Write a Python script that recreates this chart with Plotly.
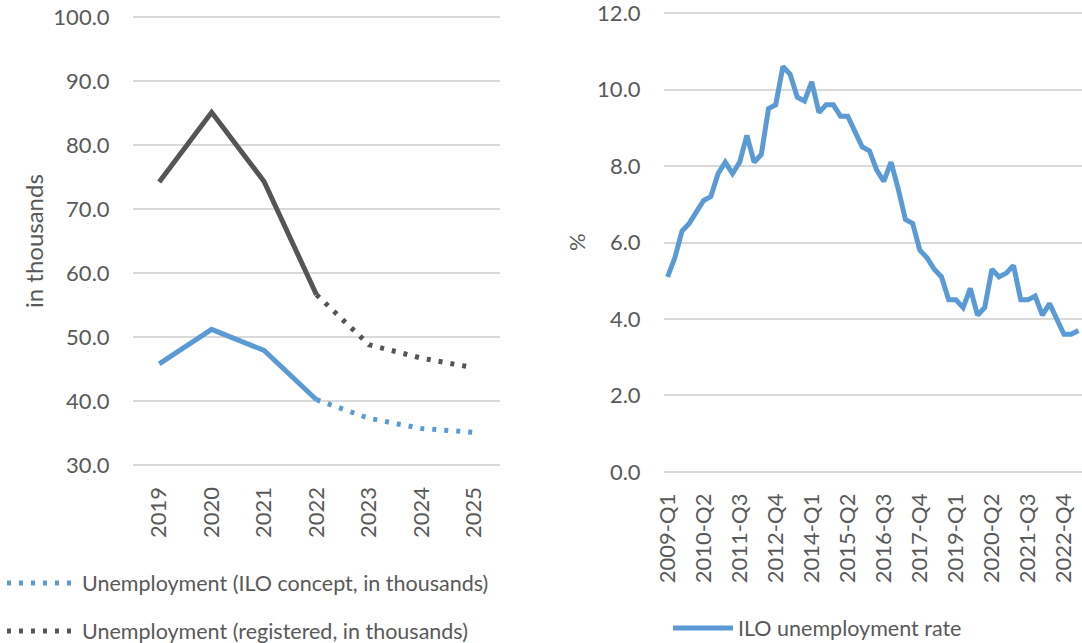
import plotly.graph_objects as go

W, H = 1082, 643

# ---- data: left chart ----
years = ["2019", "2020", "2021", "2022", "2023", "2024", "2025"]
ilo_thousands = [45.8, 51.2, 47.9, 40.2, 37.3, 35.7, 35.1]
registered_thousands = [74.2, 85.1, 74.3, 56.6, 48.8, 46.7, 45.2]
n_actual = 4  # 2019-2022 observed, 2022-2025 forecast (dotted)

# ---- data: right chart ----
quarters = [f"{y}-Q{q}" for y in range(2009, 2024) for q in range(1, 5)][:58]
ilo_rate = [5.1, 5.6, 6.3, 6.5, 6.8, 7.1, 7.2, 7.8, 8.1, 7.8,
            8.1, 8.8, 8.1, 8.3, 9.5, 9.6, 10.6, 10.4, 9.8, 9.7,
            10.2, 9.4, 9.6, 9.6, 9.3, 9.3, 8.9, 8.5, 8.4, 7.9,
            7.6, 8.1, 7.4, 6.6, 6.5, 5.8, 5.6, 5.3, 5.1, 4.5,
            4.5, 4.3, 4.8, 4.1, 4.3, 5.3, 5.1, 5.2, 5.4, 4.5,
            4.5, 4.6, 4.1, 4.4, 4.0, 3.6, 3.6, 3.7]
quarter_ticks = quarters[::5]
left_ticks = [30, 40, 50, 60, 70, 80, 90, 100]
right_ticks = [0, 2, 4, 6, 8, 10, 12]

TXT = "#595959"
GRID = "#d9d9d9"
BLUE = "#5b9bd5"
GRAY = "#555555"
FONT = "Lato"
LW = 5

def px_x(p):
    return p / W

def px_y(p):
    return 1 - p / H

fig = go.Figure()

# left chart traces
fig.add_trace(go.Scatter(x=years[:n_actual], y=ilo_thousands[:n_actual], mode="lines",
                         line=dict(color=BLUE, width=LW), showlegend=False,
                         xaxis="x", yaxis="y"))
fig.add_trace(go.Scatter(x=years[n_actual - 1:], y=ilo_thousands[n_actual - 1:], mode="lines",
                         line=dict(color=BLUE, width=LW, dash="4px,8px"),
                         name="Unemployment (ILO concept, in thousands)", legend="legend",
                         xaxis="x", yaxis="y"))
fig.add_trace(go.Scatter(x=years[:n_actual], y=registered_thousands[:n_actual], mode="lines",
                         line=dict(color=GRAY, width=LW), showlegend=False,
                         xaxis="x", yaxis="y"))
fig.add_trace(go.Scatter(x=years[n_actual - 1:], y=registered_thousands[n_actual - 1:], mode="lines",
                         line=dict(color=GRAY, width=LW, dash="4px,8px"),
                         name="Unemployment (registered, in thousands)", legend="legend2",
                         xaxis="x", yaxis="y"))

# right chart trace
fig.add_trace(go.Scatter(x=quarters, y=ilo_rate, mode="lines",
                         line=dict(color=BLUE, width=LW),
                         name="ILO unemployment rate", legend="legend3",
                         xaxis="x2", yaxis="y2"))

tickfont = dict(family=FONT, size=22, color=TXT)
legfont = dict(family=FONT, size=21.5, color=TXT)

# left: 30 at y=465px, 100 at y=17px  (6.4 px / unit), padded by 0.5 unit
# right: 0 at y=472px, 12 at y=13px (38.25 px / unit), padded by 0.1 unit
fig.update_layout(
    width=W, height=H,
    margin=dict(l=0, r=0, t=0, b=0, autoexpand=False),
    paper_bgcolor="white", plot_bgcolor="white",
    font=dict(family=FONT, color=TXT, size=22),
    xaxis=dict(domain=[px_x(133), px_x(500)], type="category", categoryorder="array",
               categoryarray=years, range=[-0.5, 6.5], tickangle=-90,
               showgrid=False, zeroline=False, showline=False,
               ticks="outside", ticklen=9, tickcolor="rgba(0,0,0,0)",
               tickfont=tickfont, anchor="y", fixedrange=True),
    yaxis=dict(domain=[px_y(468.2), px_y(13.8)], range=[29.5, 100.5],
               tickmode="array", tickvals=left_ticks,
               tickformat=".1f", showgrid=True, gridcolor=GRID, gridwidth=1.5,
               zeroline=False, showline=False, ticklabeloverflow="allow",
               ticks="outside", ticklen=18, tickcolor="rgba(0,0,0,0)",
               tickfont=tickfont, anchor="x", fixedrange=True),
    xaxis2=dict(domain=[px_x(664), 1.0], type="category", categoryorder="array",
                categoryarray=quarters, range=[-0.5, 57.5], tickangle=-90,
                tickmode="array", tickvals=quarter_ticks, ticktext=quarter_ticks,
                showgrid=False, zeroline=False, showline=False,
                ticks="outside", ticklen=8, tickcolor="rgba(0,0,0,0)",
                tickfont=tickfont, anchor="y2", fixedrange=True),
    yaxis2=dict(domain=[px_y(475.8), px_y(9.2)], range=[-0.1, 12.1],
                tickmode="array", tickvals=right_ticks,
                tickformat=".1f", showgrid=True, gridcolor=GRID, gridwidth=1.5,
                zeroline=False, showline=False, ticklabeloverflow="allow",
                ticks="outside", ticklen=18, tickcolor="rgba(0,0,0,0)",
                tickfont=tickfont, anchor="x2", fixedrange=True),
    legend=dict(x=px_x(2), y=px_y(583), xanchor="left", yanchor="middle",
                bgcolor="rgba(0,0,0,0)", font=legfont, itemwidth=70),
    legend2=dict(x=px_x(2), y=px_y(631), xanchor="left", yanchor="middle",
                 bgcolor="rgba(0,0,0,0)", font=legfont, itemwidth=70),
    legend3=dict(x=px_x(668), y=px_y(628), xanchor="left", yanchor="middle",
                 bgcolor="rgba(0,0,0,0)", font=legfont, itemwidth=60),
    annotations=[
        dict(text="in thousands", x=px_x(33), y=px_y(241), xref="paper", yref="paper",
             textangle=-90, showarrow=False, font=dict(family=FONT, size=24, color=TXT),
             xanchor="center", yanchor="middle"),
        dict(text="%", x=px_x(576), y=px_y(242), xref="paper", yref="paper",
             textangle=-90, showarrow=False, font=dict(family=FONT, size=22, color=TXT),
             xanchor="center", yanchor="middle"),
    ],
)

fig.write_html("out.html", config={"displayModeBar": False},
               post_script="document.body.style.margin='0';document.body.style.overflow='hidden';")
